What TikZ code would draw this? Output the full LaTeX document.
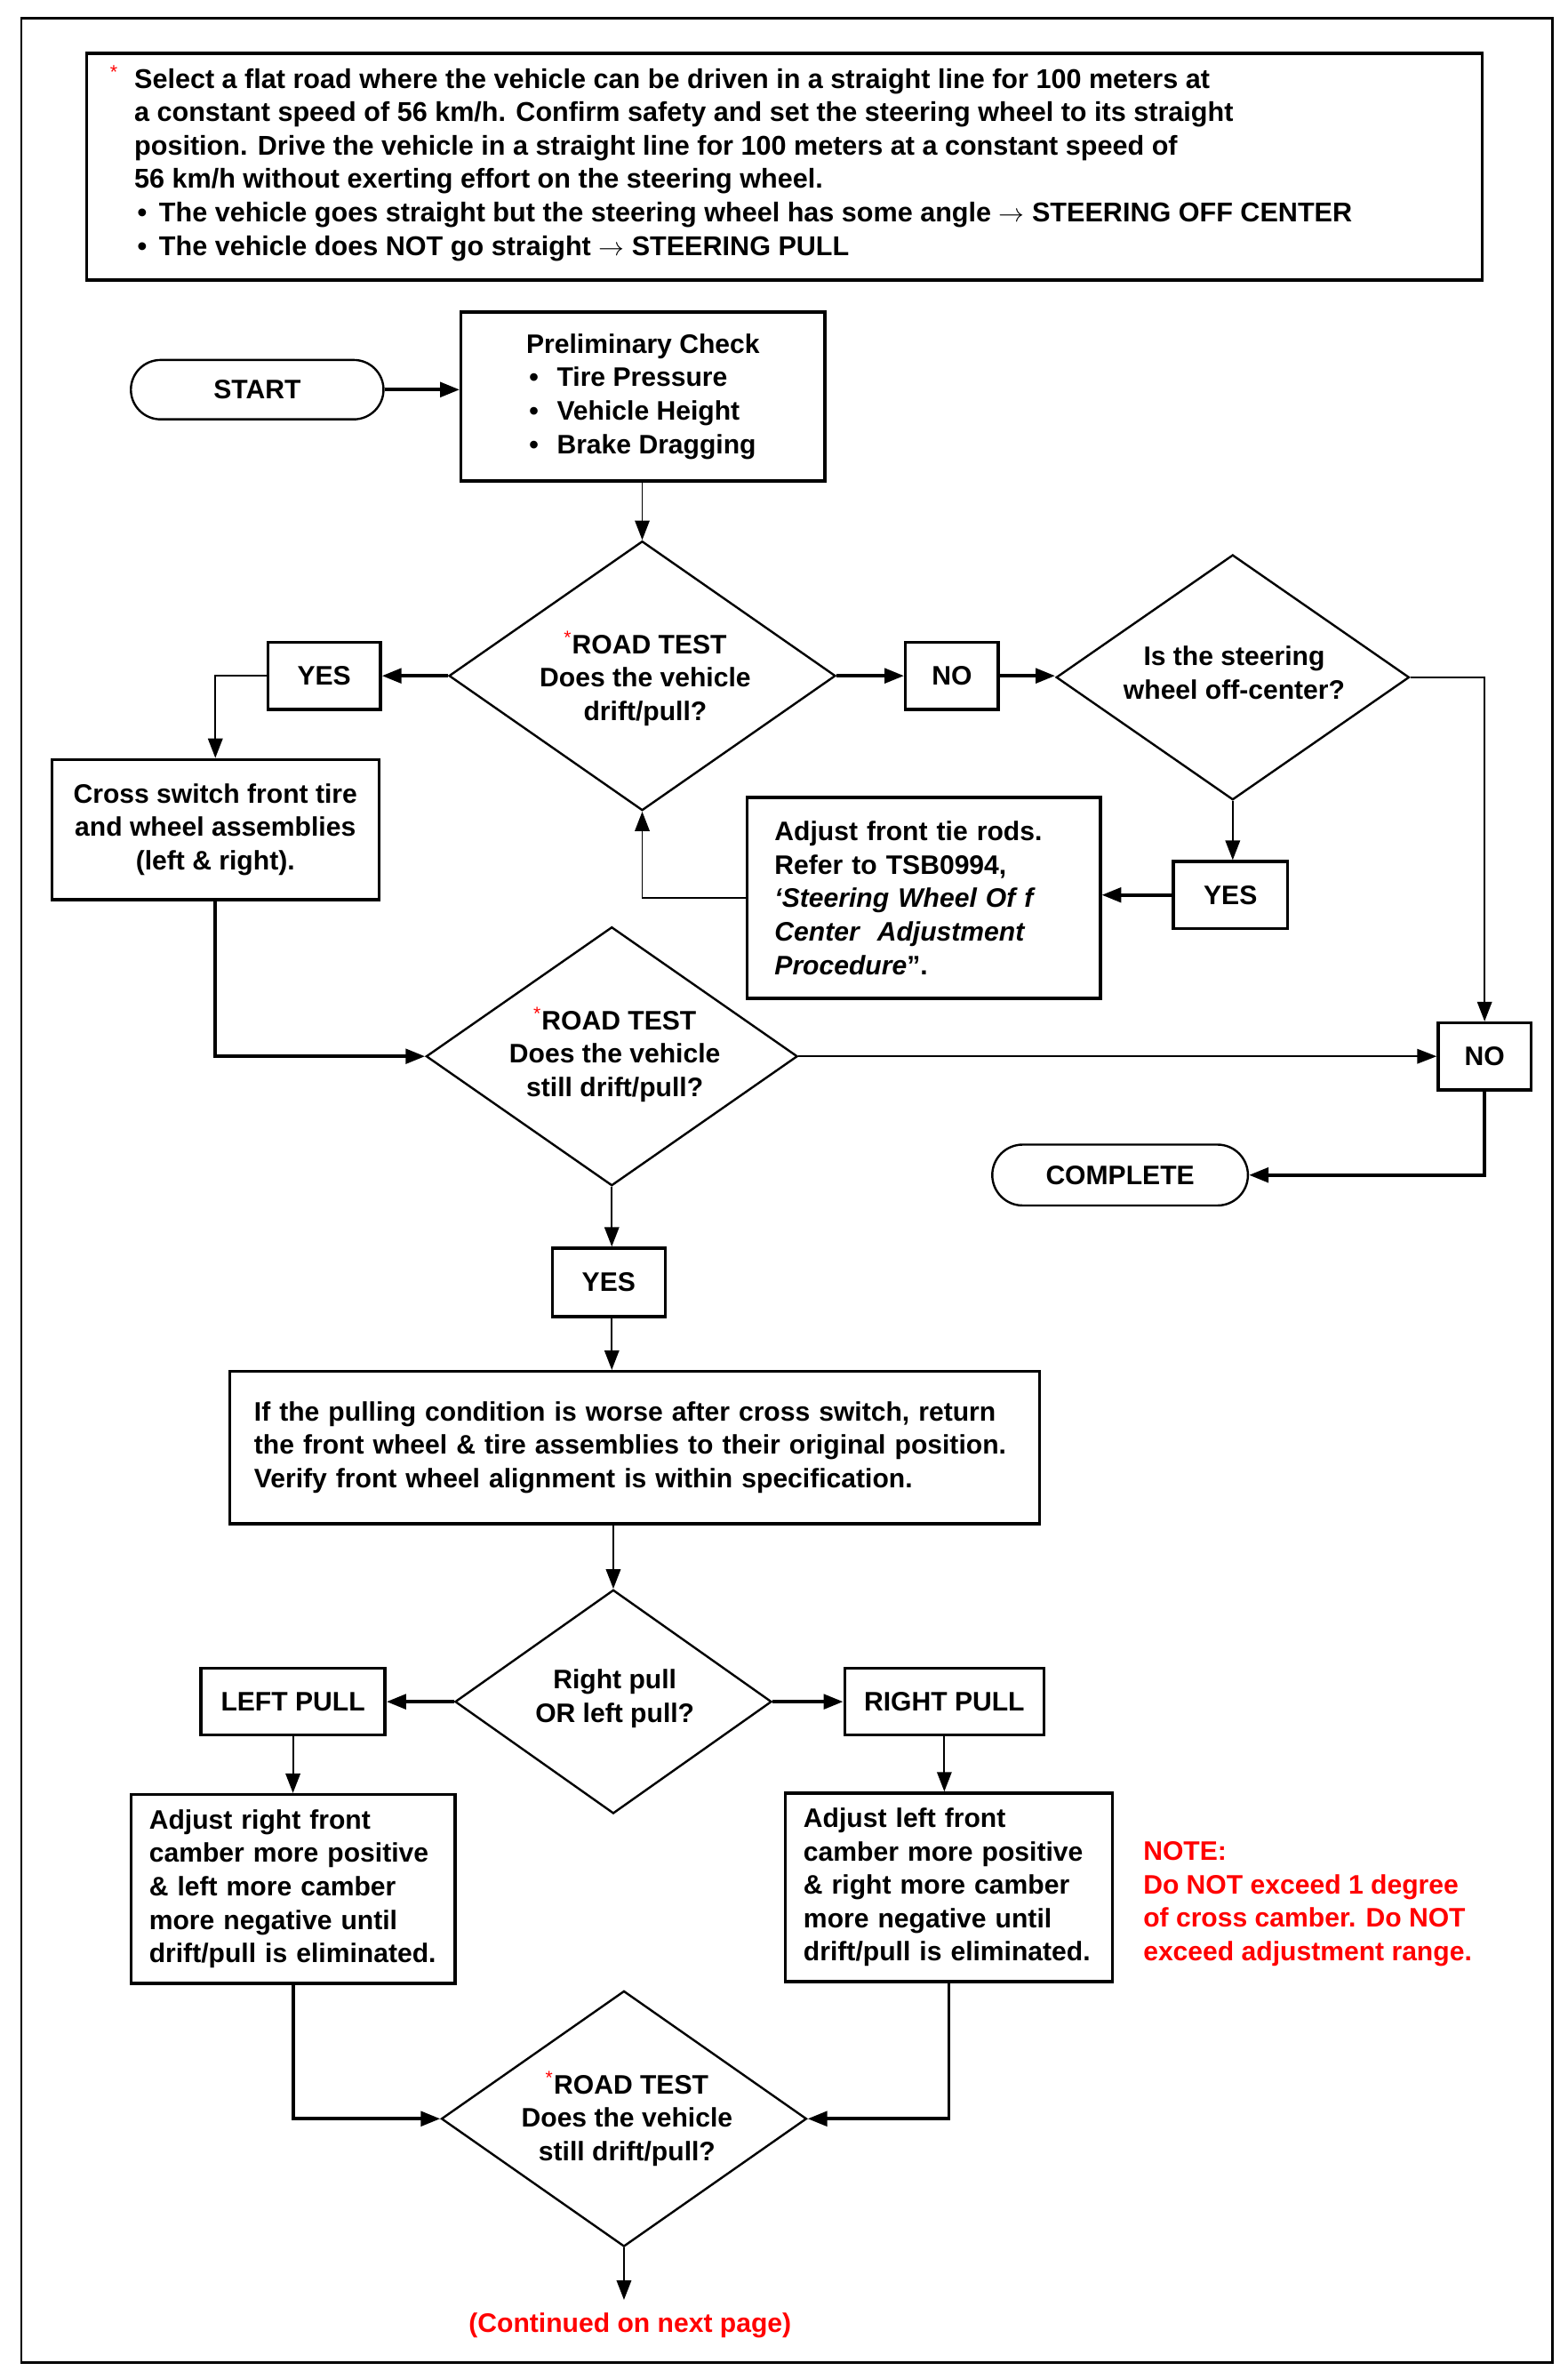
\documentclass[tikz,border=0pt]{standalone}
\usepackage{fontspec}
\setmainfont{Liberation Sans}
\usepackage{xcolor}
\definecolor{notered}{RGB}{255,0,0}
\usepackage{tikz}
\usetikzlibrary{shapes.geometric, shapes.misc, arrows.meta}
\newlength{\pxl}
\setlength{\pxl}{0.025cm}
\newcommand{\flowfont}{\fontsize{12.5}{15.6}\selectfont\bfseries}
\newcommand{\redstar}{\textcolor{notered}{\textsuperscript{\normalfont *}}}
\tikzstyle{box} = [
    rectangle, draw, text centered,
    line width=1.4pt,
    inner sep=0pt,
    align=center,
    font=\flowfont,
]
\tikzstyle{decision} = [
    diamond, draw,
    line width=1pt,
    inner sep=0pt,
]
\tikzstyle{terminal} = [
    rounded rectangle, draw,
    line width=1pt,
    inner sep=0pt,
    font=\flowfont,
]
\tikzstyle{label} = [
    inner sep=0pt, align=center, font=\flowfont,
]
\tikzstyle{arrow} = [-{Triangle[length=0.32cm, width=0.24cm]}, line width=0.8pt]
\tikzstyle{thickarrow} = [arrow, line width=1.6pt]

\begin{document}
\begin{tikzpicture}[x=0.025cm, y=-0.025cm]
    \useasboundingbox (0,0) rectangle (1030,1563);
    % page frame
    \draw[line width=1.2pt] (14,12) rectangle (1020,1552);

    % road test note
    \node (note) at (515.5,109.5) [box, minimum width=917\pxl, minimum height=149\pxl] {};
    \node (notetxt) at (72,43) [label, anchor=north west, align=left, font=\fontsize{12.7}{15.6}\selectfont\bfseries] {%
        \makebox[16\pxl][l]{\redstar}Select a flat road where the vehicle can be driven in a straight line for 100 meters at\\
        \hspace*{16\pxl}a constant speed of 56 km/h. Confirm safety and set the steering wheel to its straight\\
        \hspace*{16\pxl}position. Drive the vehicle in a straight line for 100 meters at a constant speed of\\
        \hspace*{16\pxl}56 km/h without exerting effort on the steering wheel.\\
        \hspace*{18\pxl}\textbullet\hspace{8\pxl}The vehicle goes straight but the steering wheel has some angle {\normalfont$\rightarrow$} STEERING OFF CENTER\\
        \hspace*{18\pxl}\textbullet\hspace{8\pxl}The vehicle does NOT go straight {\normalfont$\rightarrow$} STEERING PULL};

    % first part
    \node (start) at (169,256) [terminal, minimum width=166\pxl, minimum height=39\pxl] {START};
    \node (prelim) at (422.5,260.5) [box, align=left, minimum width=239\pxl, minimum height=111\pxl] {%
        Preliminary Check\\
        \hspace*{2\pxl}\textbullet\hspace{12\pxl}Tire Pressure\\
        \hspace*{2\pxl}\textbullet\hspace{12\pxl}Vehicle Height\\
        \hspace*{2\pxl}\textbullet\hspace{12\pxl}Brake Dragging};

    \node (test1) at (422,444) [decision, minimum width=254\pxl, minimum height=177\pxl] {};
    \node (test1txt) at (424,446) [label] {\redstar ROAD TEST\\Does the vehicle\\drift/pull?};
    \node (yes1) at (213,444) [box, minimum width=74\pxl, minimum height=44\pxl] {YES};
    \node (no1) at (625.5,444) [box, minimum width=61\pxl, minimum height=44\pxl] {NO};
    \node (offc) at (810,445) [decision, minimum width=232\pxl, minimum height=161\pxl] {};
    \node (offctxt) at (811,442) [label] {Is the steering\\wheel off-center?};
    \node (cross) at (141.5,545) [box, minimum width=215\pxl, minimum height=92\pxl] {%
        Cross switch front tire\\and wheel assemblies\\(left \& right).};
    \node (yes2) at (808.5,588) [box, minimum width=75\pxl, minimum height=44\pxl] {YES};
    \node (tierod) at (607,590) [box, align=left, text width=196\pxl, inner xsep=18\pxl, minimum height=132\pxl] {%
        Adjust front tie rods.\\
        Refer to TSB0994,\\
        \textit{‘Steering Wheel Of f}\\
        \textit{Center\ \ Adjustment}\\
        \textit{Procedure}”.};

    \node (test2) at (402,694) [decision, minimum width=244\pxl, minimum height=170\pxl] {};
    \node (test2txt) at (404,693) [label] {\redstar ROAD TEST\\Does the vehicle\\still drift/pull?};
    \node (no2) at (975.5,694) [box, minimum width=61\pxl, minimum height=44\pxl] {NO};
    \node (done) at (736,772) [terminal, minimum width=168\pxl, minimum height=40\pxl] {COMPLETE};
    \node (yes3) at (400,842.5) [box, minimum width=74\pxl, minimum height=45\pxl] {YES};

    % second part
    \node (worse) at (417,951) [box, align=left, text width=500\pxl, inner xsep=16\pxl, minimum height=100\pxl] {%
        If the pulling condition is worse after cross switch, return\\
        the front wheel \& tire assemblies to their original position.\\
        Verify front wheel alignment is within specification.};
    \node (side) at (403,1118) [decision, minimum width=208\pxl, minimum height=147\pxl] {};
    \node (sidetxt) at (404,1116) [label] {Right pull\\OR left pull?};
    \node (lpull) at (192.5,1118) [box, minimum width=121\pxl, minimum height=44\pxl] {LEFT PULL};
    \node (rpull) at (620.5,1118) [box, minimum width=131\pxl, minimum height=44\pxl] {RIGHT PULL};
    \node (ladj) at (192.5,1241) [box, align=left, text width=189\pxl, inner xsep=12\pxl, minimum height=124\pxl] {%
        Adjust right front\\camber more positive\\\& left more camber\\more negative until\\drift/pull is eliminated.};
    \node (radj) at (623.5,1240) [box, align=left, text width=191\pxl, inner xsep=12\pxl, minimum height=124\pxl] {%
        Adjust left front\\camber more positive\\\& right more camber\\more negative until\\drift/pull is eliminated.};
    \node (caution) at (751,1251) [label, anchor=west, align=left, text=notered] {%
        NOTE:\\Do NOT exceed 1 degree\\of cross camber. Do NOT\\exceed adjustment range.};
    \node (test3) at (410,1392) [decision, minimum width=240\pxl, minimum height=168\pxl] {};
    \node (test3txt) at (412,1392) [label] {\redstar ROAD TEST\\Does the vehicle\\still drift/pull?};
    \coordinate (cont) at (410,1511);
    \node (conttxt) at (414,1528) [label, text=notered] {(Continued on next page)};

    % arrows
    \draw [thickarrow] (start.east) -- (start.east -| prelim.west);
    \draw [arrow] (prelim.south -| test1.north) -- (test1.north);
    \draw [thickarrow] (test1.west) -- (yes1.east);
    \draw [arrow] (yes1.west) -| (cross.north);
    \draw [thickarrow] (test1.east) -- (no1.west);
    \draw [thickarrow] (no1.east) -- (no1.east -| offc.west);
    \draw [arrow] (offc.east) -| (no2.north);
    \draw [arrow] (offc.south) -- (offc.south |- yes2.north);
    \draw [thickarrow] (yes2.west) -- (yes2.west -| tierod.east);
    \draw [arrow] (tierod.west) -| (test1.south);
    \draw [thickarrow] (cross.south) |- (test2.west);
    \draw [arrow] (test2.east) -- (no2.west);
    \draw [thickarrow] (no2.south) |- (done.east);
    \draw [arrow] (test2.south) -- (test2.south |- yes3.north);
    \draw [arrow] (test2.south |- yes3.south) -- (test2.south |- worse.north);
    \draw [arrow] (side.north |- worse.south) -- (side.north);
    \draw [thickarrow] (side.west) -- (lpull.east);
    \draw [thickarrow] (side.east) -- (rpull.west);
    \draw [arrow] (lpull.south) -- (ladj.north);
    \draw [arrow] (rpull.south) -- (rpull.south |- radj.north);
    \draw [thickarrow] (ladj.south) |- (test3.west);
    \draw [thickarrow] (radj.south) |- (test3.east);
    \draw [arrow] (test3.south) -- (cont);

\end{tikzpicture}
\end{document}
